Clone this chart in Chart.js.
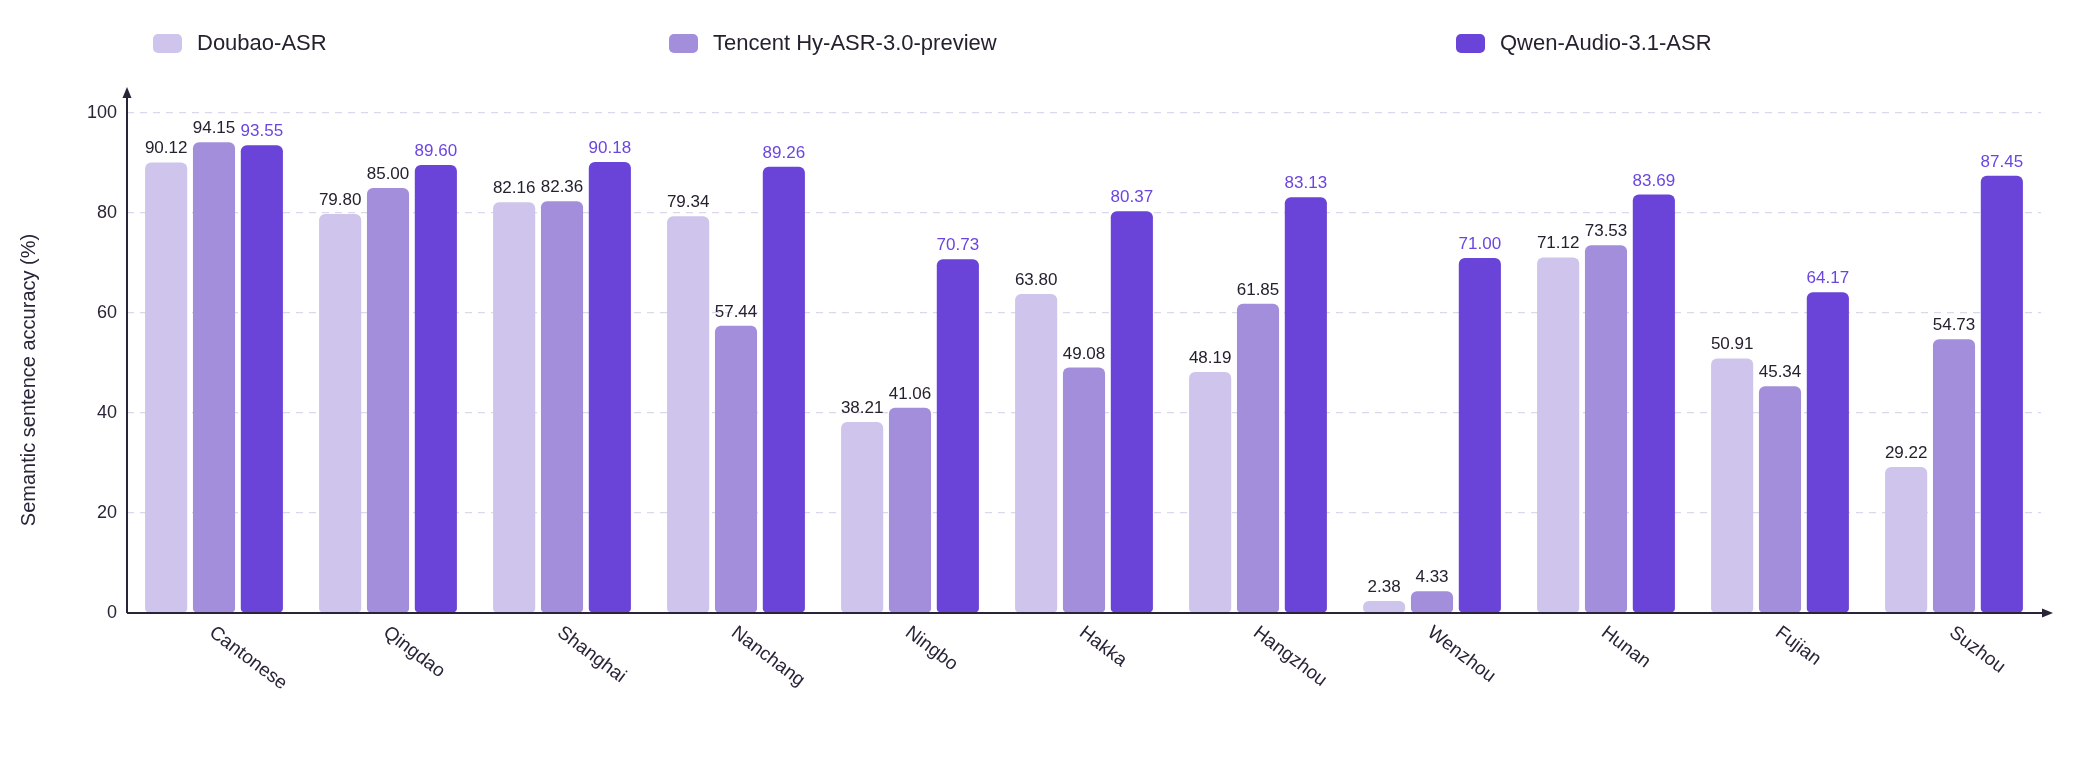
<!DOCTYPE html>
<html>
<head>
<meta charset="utf-8">
<script src="https://cdn.jsdelivr.net/npm/chart.js@4.4.1/dist/chart.umd.min.js"></script>
<style>
  html, body { margin: 0; padding: 0; background: #fff; }
  #wrap { position: relative; width: 2100px; height: 763px; }
  #chart { position: absolute; left: 0; top: 0; }
  .legend-item {
    position: absolute; top: 30px; display: flex; align-items: center;
    font: 22px 'Liberation Sans', Arial, sans-serif; color: #26212f; white-space: nowrap;
  }
  .swatch { width: 29px; height: 19px; border-radius: 5px; margin-right: 15px; }
</style>
</head>
<body>
<div id="wrap">
  <canvas id="chart" width="2100" height="763"></canvas>
</div>
<script>
const dialects = ['Cantonese', 'Qingdao', 'Shanghai', 'Nanchang', 'Ningbo', 'Hakka', 'Hangzhou', 'Wenzhou', 'Hunan', 'Fujian', 'Suzhou'];
const seriesNames = ['Doubao-ASR', 'Tencent Hy-ASR-3.0-preview', 'Qwen-Audio-3.1-ASR'];
const doubao = [90.12, 79.80, 82.16, 79.34, 38.21, 63.80, 48.19, 2.38, 71.12, 50.91, 29.22];
const tencent = [94.15, 85.00, 82.36, 57.44, 41.06, 49.08, 61.85, 4.33, 73.53, 45.34, 54.73];
const qwen = [93.55, 89.60, 90.18, 89.26, 70.73, 80.37, 83.13, 71.00, 83.69, 64.17, 87.45];
const yTicks = [0, 20, 40, 60, 80, 100];

const colors = ['#cec4ec', '#a38edc', '#6a43d8'];
const labelColors = ['#26212f', '#26212f', '#6b45e0'];
const legendX = [153, 669, 1456];
const FONT = "'Liberation Sans', Arial, sans-serif";
const INK = '#2a2438';

// html legend, spaced like the original
seriesNames.forEach((name, i) => {
  const item = document.createElement('div');
  item.className = 'legend-item';
  item.style.left = legendX[i] + 'px';
  item.innerHTML = `<span class="swatch" style="background:${colors[i]}"></span><span>${name}</span>`;
  document.getElementById('wrap').appendChild(item);
});

const valueLabels = {
  id: 'valueLabels',
  afterDatasetsDraw(chart) {
    const { ctx } = chart;
    ctx.save();
    ctx.font = `17px ${FONT}`;
    ctx.textAlign = 'center';
    ctx.textBaseline = 'alphabetic';
    chart.data.datasets.forEach((ds, di) => {
      ctx.fillStyle = labelColors[di];
      chart.getDatasetMeta(di).data.forEach((bar, i) => {
        ctx.fillText(ds.data[i].toFixed(2), bar.x, bar.y - 9);
      });
    });
    ctx.restore();
  },
};

const axesAndLabels = {
  id: 'axesAndLabels',
  afterDraw(chart) {
    const { ctx, chartArea, scales } = chart;
    const x0 = chartArea.left;
    const y0 = scales.y.getPixelForValue(0);
    ctx.save();
    ctx.strokeStyle = INK;
    ctx.fillStyle = INK;
    ctx.lineWidth = 2;

    // y axis with arrow
    const yTop = chartArea.top - 26;
    ctx.beginPath();
    ctx.moveTo(x0, y0);
    ctx.lineTo(x0, yTop + 8);
    ctx.stroke();
    ctx.beginPath();
    ctx.moveTo(x0, yTop);
    ctx.lineTo(x0 - 4.5, yTop + 11);
    ctx.lineTo(x0 + 4.5, yTop + 11);
    ctx.closePath();
    ctx.fill();

    // x axis with arrow
    const xEnd = chartArea.right + 12;
    ctx.beginPath();
    ctx.moveTo(x0, y0);
    ctx.lineTo(xEnd - 8, y0);
    ctx.stroke();
    ctx.beginPath();
    ctx.moveTo(xEnd, y0);
    ctx.lineTo(xEnd - 11, y0 - 4.5);
    ctx.lineTo(xEnd - 11, y0 + 4.5);
    ctx.closePath();
    ctx.fill();

    // rotated category labels
    ctx.font = `19px ${FONT}`;
    ctx.textAlign = 'left';
    ctx.textBaseline = 'top';
    dialects.forEach((name, i) => {
      const x = scales.x.getPixelForValue(i);
      ctx.save();
      ctx.translate(x + 3, y0 + 10);
      ctx.rotate(37 * Math.PI / 180);
      ctx.fillText(name, 0, 0);
      ctx.restore();
    });

    // y axis title
    ctx.font = `20px ${FONT}`;
    ctx.textAlign = 'center';
    ctx.textBaseline = 'middle';
    ctx.save();
    ctx.translate(29, 380);
    ctx.rotate(-Math.PI / 2);
    ctx.fillText('Semantic sentence accuracy (%)', 0, 0);
    ctx.restore();

    ctx.restore();
  },
};

const barStyle = {
  borderRadius: { topLeft: 6, topRight: 6, bottomLeft: 4, bottomRight: 4 },
  borderSkipped: false,
  categoryPercentage: 0.825,
  barPercentage: 0.88,
};

new Chart(document.getElementById('chart').getContext('2d'), {
  type: 'bar',
  data: {
    labels: dialects,
    datasets: [
      { label: seriesNames[0], data: doubao, backgroundColor: colors[0], ...barStyle },
      { label: seriesNames[1], data: tencent, backgroundColor: colors[1], ...barStyle },
      { label: seriesNames[2], data: qwen, backgroundColor: colors[2], ...barStyle },
    ],
  },
  options: {
    responsive: false,
    devicePixelRatio: 1,
    animation: false,
    layout: { padding: { top: 113, right: 59, bottom: 0, left: 0 } },
    plugins: { legend: { display: false }, tooltip: { enabled: false } },
    scales: {
      x: {
        grid: { display: false },
        border: { display: false },
        ticks: { display: false },
        afterFit: (scale) => { scale.height = 150; },
      },
      y: {
        min: 0,
        max: 100,
        afterBuildTicks: (scale) => { scale.ticks = yTicks.map((v) => ({ value: v })); },
        border: { display: false, dash: [7, 6] },
        grid: {
          color: (c) => (c.tick && c.tick.value === 0 ? 'rgba(0,0,0,0)' : '#dcd7ec'),
          lineWidth: 1.3,
          drawTicks: false,
        },
        ticks: { color: INK, font: { family: FONT, size: 18 }, padding: 10 },
        afterFit: (scale) => { scale.width = 127; },
      },
    },
  },
  plugins: [valueLabels, axesAndLabels],
});
</script>
</body>
</html>
